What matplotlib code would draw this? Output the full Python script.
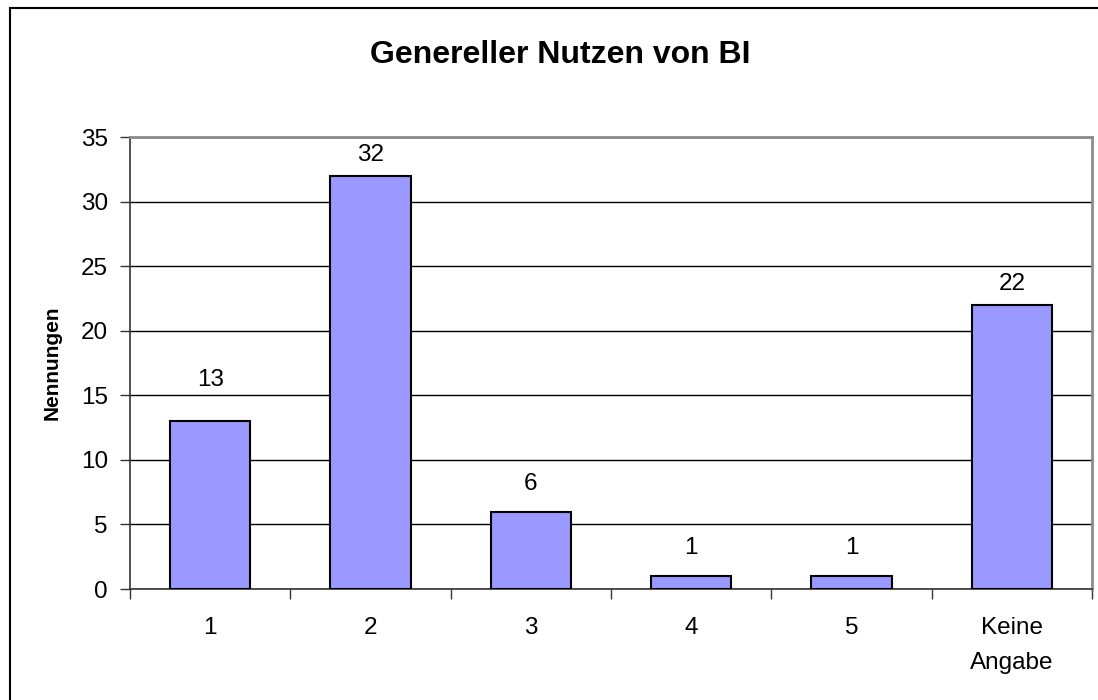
import numpy as np
import matplotlib
matplotlib.use('Agg')
import matplotlib.pyplot as plt
from matplotlib.patches import Rectangle

plt.rcParams['font.family'] = ['Liberation Sans', 'DejaVu Sans']

categories = ['1', '2', '3', '4', '5', 'Keine\nAngabe']
counts = [13, 32, 6, 1, 1, 22]
# label distance above each bar, in points
label_offsets = [22, 7, 12, 12, 12, 7]

fig = plt.figure(figsize=(10.98, 7), dpi=100)
ax = fig.add_axes([130 / 1098, 111 / 700, 962 / 1098, 452 / 700])

x = np.arange(len(categories)) + 0.5
ax.bar(x, counts, width=0.5, color='#9999ff', edgecolor='black', linewidth=1.5, zorder=3)

for xi, c, off in zip(x, counts, label_offsets):
    ax.annotate(str(c), (xi, c), xytext=(0, off), textcoords='offset points',
                ha='center', va='bottom', fontsize=17.5)

ax.set_xlim(0, len(categories))
ax.set_ylim(0, 35)
ax.set_yticks(np.arange(0, 36, 5))
ax.set_xticks(x)
ax.set_xticklabels(categories, fontsize=17.5, linespacing=1.75)
ax.set_xticks(np.arange(0, len(categories) + 1), minor=True)
ax.tick_params(axis='x', which='major', length=0, pad=20)
ax.tick_params(axis='x', which='minor', length=7, width=1, direction='out', color='#333333')
ax.tick_params(axis='y', length=7, width=1, direction='out', pad=9, labelsize=17.5, color='#333333')
ax.yaxis.grid(True, color='black', linewidth=1, zorder=0)

for s in ['top', 'right']:
    ax.spines[s].set_color('#8c8c8c')
    ax.spines[s].set_linewidth(2)
for s in ['left', 'bottom']:
    ax.spines[s].set_color('#333333')
    ax.spines[s].set_linewidth(1.2)

ax.set_ylabel('Nennungen', fontsize=15, fontweight='bold', labelpad=14)

fig.text(560 / 1098, 1 - 55 / 700, 'Genereller Nutzen von BI', ha='center', va='center',
         fontsize=23, fontweight='bold')

# chart frame
fig.patches.append(Rectangle((10 / 1098, -0.05), 1.2, 1 - 8 / 700 + 0.05,
                             transform=fig.transFigure, fill=False,
                             edgecolor='black', linewidth=1.5))

fig.savefig('out.png', dpi=100)
